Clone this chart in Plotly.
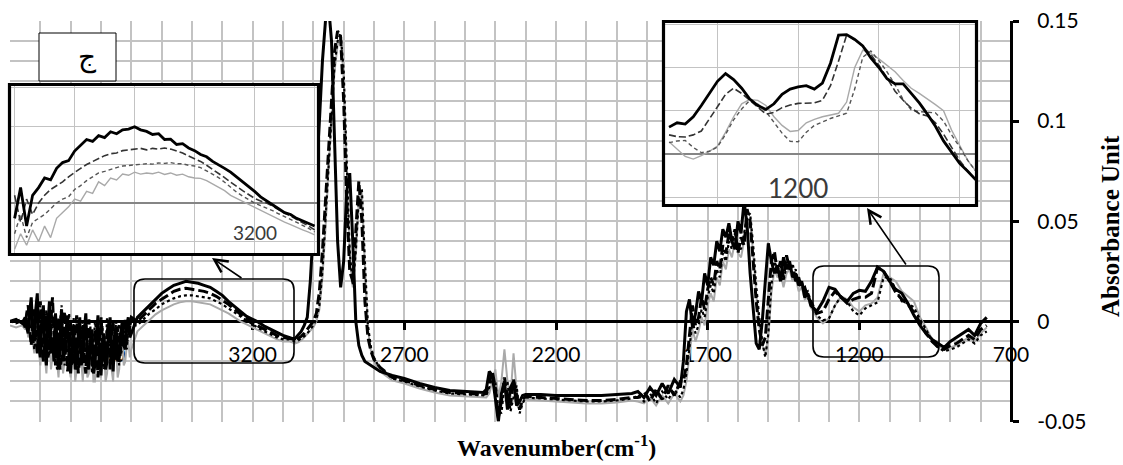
import plotly.graph_objects as go

W, H = 1123, 465

# ---------------- main spectrum data (wavenumber, absorbance in 0.001 units) -------------
WN = [4000, 3980, 3960,
      3950, 3945, 3940, 3935, 3930, 3925, 3920, 3915, 3910, 3905,
      3900, 3895, 3890, 3885, 3880, 3875, 3870, 3865, 3860, 3855,
      3850, 3845, 3840, 3835, 3830, 3825, 3820, 3815, 3810, 3805,
      3800, 3795, 3790, 3785, 3780, 3775, 3770, 3765, 3760, 3755,
      3750, 3745, 3740, 3735, 3730, 3725, 3720, 3715, 3710, 3705,
      3700, 3695, 3690, 3685, 3680, 3675, 3670, 3665, 3660, 3655,
      3650, 3645, 3640, 3635, 3630, 3625, 3620, 3615, 3610, 3605, 3600,
      3580, 3560, 3540, 3520, 3500, 3480, 3460, 3440, 3420, 3400,
      3380, 3360, 3340, 3320, 3300, 3280, 3260, 3240, 3220, 3200,
      3180, 3160, 3140, 3120, 3100,
      3080, 3070, 3060, 3050, 3040, 3030, 3020, 3010, 3000, 2990,
      2980, 2970, 2960, 2950, 2940, 2930, 2920, 2910, 2900, 2890,
      2880, 2870, 2860, 2850, 2840, 2830, 2820, 2810, 2800, 2790, 2780,
      2740, 2700, 2650, 2600, 2550, 2500, 2460,
      2440, 2430, 2420, 2410, 2400, 2390, 2380, 2370, 2360, 2350,
      2340, 2330, 2320, 2310, 2300,
      2250, 2200, 2150, 2100, 2050, 2000, 1950,
      1930, 1910, 1890, 1870, 1850, 1830, 1810, 1790,
      1780, 1770, 1760, 1750, 1740, 1730, 1720, 1710, 1700, 1690,
      1680, 1670, 1660, 1650, 1640, 1630, 1620, 1610, 1600, 1590,
      1580, 1570, 1560, 1550, 1540, 1530, 1520, 1510, 1500, 1490,
      1480, 1470, 1460, 1450, 1440, 1430, 1420, 1410, 1400, 1390,
      1380, 1370, 1360,
      1340, 1320, 1300, 1280, 1260, 1240, 1220, 1200, 1180, 1160,
      1140, 1120, 1100, 1080, 1060, 1040, 1020, 1000, 980, 960,
      940, 920, 900, 880, 860, 840, 820, 800, 780]

S1 = [0, 1, -1,
      2, -3, -6, 5, 12, -4, -10, 6, 14, -12,
      -18, 2, 8, -14, -22, -2, 10, -16, -8, -20,
      4, -10, -24, -8, 6, -20, -14, -4, 3, -18,
      -26, -10, -2, -24, -20, -6, 2, -22, -16, -4,
      4, -18, -24, -10, -4, -26, -22, -8, 3, -16,
      -27, -12, -6, -24, -20, -4, 2, -14, -25, -8,
      -3, -20, -18, -6, 0, -12, -14, -2, 2, -8, -6,
      2, 5, 8, 11, 14, 16, 18, 19, 20, 19.5,
      19, 18, 17, 15, 13, 10, 7.5, 5, 2.5, 1,
      -0.5, -2.5, -4, -5.5, -7,
      -8, -8.5, -8.5, -7, -5, -2, 2, 20, 45, 70,
      100, 130, 150, 158, 140, 90, 40, 17, 30, 65,
      74, 40, 0, -12, -17, -20, -21, -22, -23, -24, -25,
      -27, -28.5, -31, -33, -34.5, -35, -35.5,
      -35.5, -34, -25, -27, -38, -50, -36, -30, -44, -33,
      -30, -42, -40, -37, -36.5,
      -36.5, -37, -37, -37, -37, -36.5, -36,
      -35, -38, -33, -37, -31, -36, -29, -33,
      -20, 5, 11, -3, 4, 15, 10, 24, 18, 32,
      28, 40, 35, 46, 42, 49, 40, 36, 50, 44,
      60, 48, 24, 5, -11, -14, 0, 20, 39, 30,
      24, 28, 20, 32, 26, 30, 22, 24, 18, 20,
      12, 14, 8,
      5, 10, 17, 16, 12, 10, 14, 15.5, 15, 20,
      27, 25, 20, 16, 14, 9, 3, -2, -6, -9,
      -11, -13, -10, -8, -6, -4, -7, -1, 2]

S2 = [0, 0, 1,
      -3, 4, 8, -4, -12, -2, 6, -8, -16, 2,
      10, -10, -20, -6, 4, -18, -14, 0, 12, -6,
      -22, -10, 2, -24, -18, -6, 5, -12, -25, -16,
      0, -8, -22, -4, 3, -26, -18, -8, -2, -20,
      -26, -6, 1, -14, -20, -24, -4, -10, -28, -14,
      2, -10, -18, -22, -6, 0, -24, -12, 0, -16,
      -20, -4, -2, -16, -12, 0, 1, -10, -8, -2, 2,
      0, 3, 6, 9, 11, 13, 15, 16, 16.5, 16,
      15.5, 15, 14, 12.5, 10.5, 8.5, 6, 3.5, 1.5, -0.5,
      -2.5, -4, -5.5, -7, -8,
      -8.5, -9, -9, -8.5, -7.5, -6, -4, -2, 0, 4,
      15, 35, 60, 90, 115, 135, 145, 142, 110, 60,
      25, 20, 45, 70, 50, 10, -8, -15, -19, -21, -23,
      -28, -29.5, -32, -34, -35.5, -36, -36.5,
      -36.5, -36, -30, -25, -33, -48, -40, -28, -38, -42,
      -29, -36, -44, -39, -37.5,
      -38, -38.5, -39, -39.5, -39.5, -39, -38,
      -38, -35, -40, -34, -39, -32, -37, -30,
      -30, -22, -5, 8, -2, 2, 12, 6, 16, 22,
      18, 30, 26, 38, 34, 44, 40, 46, 34, 42,
      38, 56, 50, 30, 10, -4, -12, -8, 10, 30,
      35, 24, 30, 22, 33, 26, 28, 20, 22, 16,
      17, 12, 10,
      4, 5, 11, 15, 12, 9, 11, 12, 12, 14,
      27, 25, 20, 14.5, 11, 8.5, 4.5, -1, -6, -10,
      -13, -14, -12, -11, -9, -7, -9, -4, -2]

S3 = [0, -1, 0,
      1, -2, -4, 2, 6, -6, -14, -2, 9, -2,
      -8, -16, -20, -4, 6, -6, -16, -8, 3, -6,
      -12, -24, -20, 0, 8, -10, -22, -14, -4, 4,
      -14, -22, 2, -10, -24, -16, -8, -2, 0, -12,
      -20, -24, -10, -2, -26, -14, 0, -6, -16, -22,
      -8, -2, -24, -16, 2, -4, -12, -22, -18, -8,
      0, -12, -22, -16, -6, -2, -10, -14, -4, 0, -2,
      -2, 1, 4, 6, 8.5, 10, 11.5, 12.5, 13, 13,
      12.5, 12, 11.5, 10, 8.5, 6.5, 4.5, 2.5, 0.5, -1.5,
      -3.5, -5, -6.5, -8, -9,
      -9, -9.5, -10, -9.5, -8.5, -7.5, -6, -4, -2, 1,
      8, 25, 50, 80, 105, 128, 140, 144, 125, 80,
      35, 18, 35, 62, 66, 30, -2, -13, -18, -21, -23,
      -28.5, -30, -32.5, -34.5, -36, -36.5, -37,
      -37, -37, -33, -28, -30, -44, -46, -32, -30, -45,
      -38, -32, -46, -41, -38,
      -38.5, -39, -39.5, -40, -40, -39.5, -38.5,
      -37, -40, -36, -41, -35, -39, -34, -38,
      -34, -26, -12, 0, -6, -2, 6, 2, 12, 18,
      14, 26, 22, 34, 30, 40, 36, 44, 38, 36,
      44, 52, 54, 38, 18, 2, -10, -18, -6, 18,
      30, 26, 28, 20, 28, 30, 24, 26, 18, 20,
      14, 15, 10,
      3, 0.5, 1.5, 8, 12.5, 10, 5, 3, 6.5, 8,
      9.5, 22, 22, 16, 10, 9, 7, 1, -4, -10,
      -13, -15, -14, -13, -11, -9, -11, -7, -5]

S4 = [-2, -3, -2,
      -4, -2, -8, -6, 2, -10, -16, -8, -2, -14,
      -22, -10, 0, -18, -26, -12, -6, -24, -18, -4,
      -2, -20, -28, -14, -8, -26, -20, -10, -4, -22,
      -28, -14, -10, -30, -24, -8, -6, -20, -30, -16,
      -8, -28, -26, -10, -12, -30, -30, -14, -6, -24,
      -28, -10, -12, -30, -26, -14, -8, -24, -30, -12,
      -14, -28, -24, -10, -8, -22, -20, -12, -10, -18, -14,
      -5, -2, 1, 3.5, 5.5, 7, 8.5, 9.5, 10, 10,
      9.5, 9, 8.5, 7, 5.5, 4, 2, 0, -1.5, -3,
      -4.5, -6, -7.5, -9, -10,
      -10, -10.5, -11, -10.5, -9.5, -8, -6.5, -5, -3, 0,
      6, 22, 46, 76, 102, 125, 138, 142, 122, 78,
      33, 17, 33, 60, 64, 28, -4, -15, -20, -23, -25,
      -29.5, -31, -33.5, -35.5, -37, -37.5, -38,
      -38, -38, -36, -30, -24, -38, -30, -14, -30, -38,
      -16, -34, -44, -40, -39,
      -39.5, -40, -40.5, -41, -41, -40.5, -39.5,
      -40, -41, -38, -42, -37, -41, -36, -40,
      -37, -30, -16, -4, -10, -5, 2, -2, 8, 14,
      10, 22, 18, 30, 26, 36, 32, 40, 34, 32,
      40, 48, 50, 34, 14, -2, -12, -16, -8, 14,
      26, 22, 24, 17, 24, 26, 20, 22, 15, 17,
      11, 12, 7,
      2, -1, 1.5, 8, 12.5, 11, 7, 5, 8, 9,
      12, 24, 22, 20, 15, 12.5, 10, 2, -3, -9,
      -12, -14, -13, -12, -10, -8, -10, -6, -3]

# ---------------- inset data (left: 3600-3100, right: 1360-980), 0.001 units ------------
LI_WN = [3600, 3590, 3580, 3570, 3560, 3550, 3540, 3530, 3520, 3510,
         3500, 3490, 3480, 3470, 3460, 3450, 3440, 3430, 3420, 3410,
         3400, 3390, 3380, 3370, 3360, 3350, 3340, 3330, 3320, 3310,
         3300, 3290, 3280, 3270, 3260, 3250, 3240, 3230, 3220, 3210,
         3200, 3190, 3180, 3170, 3160, 3150, 3140, 3130, 3120, 3110, 3100]
LI_S1 = [-4, 4, -6, 2, 4, 6.5, 6, 9, 10.5, 11,
         13.5, 15, 16.5, 16, 17.5, 17, 18.5, 18, 19, 19.2,
         19.8, 19, 18.6, 17.8, 18, 16.5, 16.6, 15.2, 15.4, 14.3,
         13.6, 12.6, 12, 10.8, 10, 9, 8, 6.8, 5.6, 4.2,
         3, 1.6, 0.5, -0.5, -1.5, -2.5, -3, -4, -4.6, -5.4, -6]
LI_S2 = [2, -5, 1, -3, 0, 2, 3.5, 4.5, 5.5, 6.8,
         8, 9, 10, 10.8, 11.5, 12.3, 12.8, 13, 13.6, 13.8,
         14, 14.2, 13.8, 14.2, 14, 14.3, 14, 13.6, 13, 12.2,
         11.5, 10.8, 9.8, 8.8, 7.8, 6.6, 5.4, 4.2, 3.2, 2.2,
         1.2, 0.5, 0, -0.8, -1.8, -2.6, -3.4, -4.2, -5, -6, -7]
LI_S3 = [-8, -3, -9, -5, -4, -3, -1.5, 0, 1, 1.6,
         3.5, 4.5, 5.8, 6.8, 7.8, 8.2, 8.8, 9.2, 9.6, 9.7,
         9.9, 10, 10.2, 10.1, 10.4, 10.3, 10.5, 10.2, 10.2, 9.8,
         9.6, 9.2, 8.4, 7.6, 6.6, 5.4, 4, 2.8, 1.8, 0.8,
         0, -0.7, -1.3, -2, -2.8, -3.5, -4.3, -5, -5.8, -6.6, -7.5]
LI_S4 = [-12, -8, -11, -7, -10, -6, -9, -4, -2.5, -1,
         1, 0.5, 3, 2.5, 5.5, 4.5, 6.5, 6, 7.5, 7.2,
         8, 7.5, 7.8, 7.6, 8, 7.4, 7.8, 7.2, 7.5, 6.8,
         6.5, 6.4, 5.8, 5, 4.2, 3.2, 2, 1.2, 0.4, -0.4,
         -1.2, -2, -2.6, -3.4, -4.2, -5, -5.6, -6.4, -7, -7.6, -8.3]

RI_WN = [1360, 1350, 1340, 1330, 1320, 1310, 1300, 1290, 1280, 1270,
         1260, 1250, 1240, 1230, 1220, 1210, 1200, 1190, 1180, 1170,
         1160, 1150, 1140, 1130, 1120, 1110, 1100, 1090, 1080, 1070,
         1060, 1050, 1040, 1030, 1020, 1010, 1000, 990, 980]
RI_S1 = [6.2, 7.2, 6.9, 8.6, 11.2, 14, 16.8, 18.6, 17.2, 15.2,
         12.7, 11.2, 10.3, 11.6, 13.8, 15, 15.5, 15.8, 15, 16.4,
         21, 27.5, 27.6, 26.5, 25, 22.2, 20, 17.4, 16.2, 16.2,
         13.9, 11.8, 9.2, 6.4, 3, 0.3, -2.2, -4, -6]
RI_S2 = [4.4, 4, 3.9, 4.4, 5.3, 8, 10.9, 13.8, 15.2, 14,
         12.3, 10.8, 9.2, 9.6, 10.7, 11.3, 11.7, 11.8, 11.8, 12.4,
         15.8, 21.5, 27.5, 26.4, 25, 23, 20.5, 17.6, 14.5, 12.4,
         10.6, 9.3, 8.8, 7.2, 4.6, 1.5, -1.5, -4, -6]
RI_S3 = [2.6, 3, 3.1, 1.5, 0.3, 0.6, 1.6, 4.5, 7.9, 10.4,
         12.4, 11.5, 9.8, 7.2, 4.8, 2.9, 2.8, 5, 6.6, 7.4,
         8.2, 8.8, 9.4, 15, 22.4, 23.8, 21.6, 19, 16, 12.6,
         10.2, 9.8, 9.6, 9.5, 7.6, 4.4, 1.6, -1.5, -4]
RI_S4 = [2.8, 1, -0.6, -1.2, -0.4, 0.6, 1.8, 5, 8.6, 11.6,
         12.6, 12.4, 11.2, 8.6, 6.6, 5.2, 5.4, 7.2, 8, 8.6,
         9, 9.4, 12, 20, 24, 23.2, 22, 20.6, 19, 17,
         15.2, 14, 12.8, 11.4, 10, 5.5, 2, -1.5, -4]

# ---------------- axis labels -------------------------------------------------------------
X_TICKS = [3700, 3200, 2700, 2200, 1700, 1200, 700]
Y_TICKS = [-0.05, 0, 0.05, 0.1, 0.15]
Y_TICKTEXT = ["-0.05", "0", "0.05", "0.1", "0.15"]
X_TITLE = "Wavenumber(cm<sup>-1</sup>)"
Y_TITLE = "Absorbance Unit"
PANEL_LABEL = "ج"
LEFT_INSET_LABEL = (3200, "3200")
RIGHT_INSET_LABEL = (1200, "1200")

for arr in (S1, S2, S3, S4):
    assert len(arr) == len(WN), (len(arr), len(WN))
for arr in (LI_S1, LI_S2, LI_S3, LI_S4):
    assert len(arr) == len(LI_WN)
for arr in (RI_S1, RI_S2, RI_S3, RI_S4):
    assert len(arr) == len(RI_WN)


def au(vals):
    return [v / 1000.0 for v in vals]


def px(x):
    return x / W


def py(y):
    return 1 - y / H


GRID = "#c3c3c3"

fig = go.Figure()

main_styles = [
    (S4, dict(color="#a9a9a9", width=2)),
    (S3, dict(color="black", width=2.2, dash="dot")),
    (S2, dict(color="black", width=3, dash="10px,4px")),
    (S1, dict(color="black", width=3)),
]
for vals, ln in main_styles:
    fig.add_trace(go.Scatter(x=WN, y=au(vals), mode="lines", line=ln,
                             xaxis="x", yaxis="y", showlegend=False, hoverinfo="skip"))

inset_styles = [
    (3, dict(color="#a9a9a9", width=1.4)),
    (2, dict(color="#555555", width=1.4, dash="4px,3px")),
    (1, dict(color="#333333", width=1.6, dash="7px,3px")),
    (0, dict(color="black", width=2.8)),
]
LI = [LI_S1, LI_S2, LI_S3, LI_S4]
RI = [RI_S1, RI_S2, RI_S3, RI_S4]
for idx, ln in inset_styles:
    fig.add_trace(go.Scatter(x=LI_WN, y=au(LI[idx]), mode="lines", line=ln,
                             xaxis="x2", yaxis="y2", showlegend=False, hoverinfo="skip"))
for idx, ln in inset_styles:
    fig.add_trace(go.Scatter(x=RI_WN, y=au(RI[idx]), mode="lines", line=ln,
                             xaxis="x3", yaxis="y3", showlegend=False, hoverinfo="skip"))

# main axes geometry (pixels)
L, R, T, B = 10, 1011, 21, 421.5
ydom = [py(B), py(T)]
zero_pos = ydom[0] + (0 - (-0.05)) / 0.2 * (ydom[1] - ydom[0])

fig.update_layout(
    width=W, height=H, autosize=False,
    margin=dict(l=0, r=0, t=0, b=0, pad=0, autoexpand=False),
    paper_bgcolor="white", plot_bgcolor="white",
    font=dict(family="Lato", size=21, color="black"),
    xaxis=dict(domain=[px(L), px(R)], range=[4000, 700], anchor="free", position=zero_pos,
               automargin=False,
               tickmode="array", tickvals=X_TICKS, ticktext=[str(t) for t in X_TICKS],
               ticks="outside", ticklen=7, tickwidth=3, tickcolor="black",
               showline=True, linecolor="black", linewidth=3,
               showgrid=True, gridcolor=GRID, gridwidth=1.5,
               minor=dict(dtick=100, tick0=0, showgrid=True, gridcolor=GRID, gridwidth=1.5, ticks=""),
               zeroline=False, layer="below traces", ticklabelstandoff=6,
               tickfont=dict(family="Lato", size=21)),
    yaxis=dict(domain=ydom, range=[-0.05, 0.15], anchor="free", position=px(R), side="right",
               automargin=False,
               tickmode="array", tickvals=Y_TICKS, ticktext=Y_TICKTEXT,
               ticks="outside", ticklen=6, tickwidth=3, tickcolor="black",
               showline=True, linecolor="black", linewidth=3,
               showgrid=True, gridcolor=GRID, gridwidth=1.5,
               minor=dict(dtick=0.01, tick0=0, showgrid=True, gridcolor=GRID, gridwidth=1.5, ticks=""),
               zeroline=False, layer="below traces", ticklabelstandoff=14,
               tickfont=dict(family="Lato", size=21)),
    xaxis2=dict(domain=[px(11), px(317)], range=[3606, 3096], anchor="y2", automargin=False,
                showticklabels=False, ticks="", showline=False, zeroline=False,
                showgrid=True, gridcolor=GRID, gridwidth=1.2, tickmode="linear", tick0=0, dtick=100),
    yaxis2=dict(domain=[py(253), py(86)], range=[-0.013, 0.0304], anchor="x2", automargin=False,
                showticklabels=False, ticks="", showline=False,
                zeroline=True, zerolinecolor="#858585", zerolinewidth=1.6,
                showgrid=True, gridcolor=GRID, gridwidth=1.2, tickmode="linear", tick0=0, dtick=0.01),
    xaxis3=dict(domain=[px(665), px(975)], range=[1365, 981], anchor="y3", automargin=False,
                showticklabels=False, ticks="", showline=False, zeroline=False,
                showgrid=True, gridcolor=GRID, gridwidth=1.2, tickmode="linear", tick0=0, dtick=100),
    yaxis3=dict(domain=[py(204), py(23)], range=[-0.0116, 0.0303], anchor="x3", automargin=False,
                showticklabels=False, ticks="", showline=False,
                zeroline=True, zerolinecolor="#858585", zerolinewidth=1.6,
                showgrid=True, gridcolor=GRID, gridwidth=1.2, tickmode="linear", tick0=0, dtick=0.01),
)

shapes = []
# white backgrounds of the insets (drawn inside the inset subplots, below their grid)
shapes.append(dict(type="rect", xref="x2 domain", yref="y2 domain", x0=0, x1=1, y0=0, y1=1,
                   fillcolor="white", line=dict(width=0), layer="below"))
shapes.append(dict(type="rect", xref="x3 domain", yref="y3 domain", x0=0, x1=1, y0=0, y1=1,
                   fillcolor="white", line=dict(width=0), layer="below"))
# inset frames
for (x0, y0, x1, y1) in [(9.5, 84.5, 318.5, 254.5), (663.5, 21.5, 976.5, 205.5)]:
    shapes.append(dict(type="rect", xref="paper", yref="paper",
                       x0=px(x0), x1=px(x1), y0=py(y1), y1=py(y0),
                       line=dict(color="black", width=3.2), fillcolor="rgba(0,0,0,0)", layer="above"))


def rrect(x0, y0, x1, y1, r):
    def p(x, y):
        return f"{px(x):.5f},{py(y):.5f}"
    return (f"M{p(x0 + r, y0)} L{p(x1 - r, y0)} Q{p(x1, y0)} {p(x1, y0 + r)} "
            f"L{p(x1, y1 - r)} Q{p(x1, y1)} {p(x1 - r, y1)} L{p(x0 + r, y1)} "
            f"Q{p(x0, y1)} {p(x0, y1 - r)} L{p(x0, y0 + r)} Q{p(x0, y0)} {p(x0 + r, y0)} Z")


for (x0, y0, x1, y1) in [(134, 279, 294, 363), (813, 266, 939, 357)]:
    shapes.append(dict(type="path", xref="paper", yref="paper", path=rrect(x0, y0, x1, y1, 11),
                       line=dict(color="black", width=1.6), layer="above"))

# panel label box
shapes.append(dict(type="rect", xref="paper", yref="paper",
                   x0=px(39), x1=px(116), y0=py(81), y1=py(33),
                   line=dict(color="black", width=1), fillcolor="white", layer="above"))
fig.update_layout(shapes=shapes)

ann = []
# arrows from the marked regions to the insets
for (hx, hy, tx, ty) in [(212, 258, 243, 279), (867, 208, 907, 266)]:
    ann.append(dict(x=px(hx), y=py(hy), xref="paper", yref="paper", text="", showarrow=True,
                    ax=tx - hx, ay=ty - hy, arrowhead=5, arrowsize=1.6, arrowwidth=1.6,
                    arrowcolor="black"))
# inset tick labels
ann.append(dict(x=LEFT_INSET_LABEL[0], y=-0.0078, xref="x2", yref="y2", text=LEFT_INSET_LABEL[1],
                showarrow=False, font=dict(family="Lato", size=19, color="#3a3a3a")))
ann.append(dict(x=RIGHT_INSET_LABEL[0], y=-0.0078, xref="x3", yref="y3", text=RIGHT_INSET_LABEL[1],
                showarrow=False, font=dict(family="Lato", size=26, color="#3a3a3a")))
# panel label
ann.append(dict(x=px(76), y=py(57), xref="paper", yref="paper", text=PANEL_LABEL, showarrow=False,
                font=dict(family="DejaVu Serif, DejaVu Sans", size=28, color="black"),
                yanchor="middle"))
# axis titles
ann.append(dict(x=px(556), y=py(446), xref="paper", yref="paper", text=f"<b>{X_TITLE}</b>",
                showarrow=False, font=dict(family="Liberation Serif", size=24, color="black"),
                xanchor="center", yanchor="middle"))
ann.append(dict(x=px(1110), y=py(226), xref="paper", yref="paper", text=f"<b>{Y_TITLE}</b>",
                showarrow=False, textangle=-90,
                font=dict(family="Liberation Serif", size=25, color="black"),
                xanchor="center", yanchor="middle"))
fig.update_layout(annotations=ann)

fig.write_html("out.html", config={"displayModeBar": False},
               post_script="document.body.style.margin='0px';document.body.style.overflow='hidden';")
